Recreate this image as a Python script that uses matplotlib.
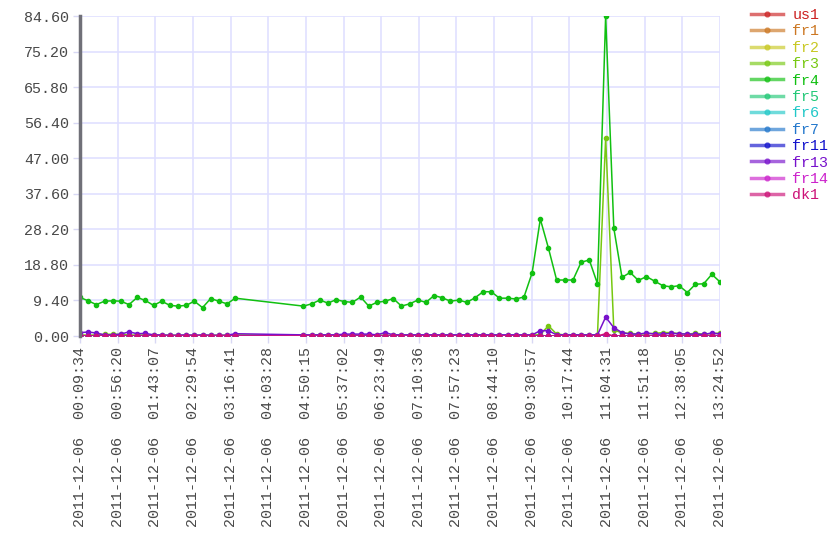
import matplotlib
matplotlib.use("Agg")
import matplotlib.pyplot as plt
from matplotlib.lines import Line2D

day = "2011-12-06"
times = ["00:09:34", "00:19:43", "00:29:52", "00:40:01", "00:50:10", "01:00:19",
         "01:10:28", "01:20:37", "01:30:46", "01:40:55", "01:51:04", "02:01:13",
         "02:11:22", "02:21:31", "02:31:40", "02:41:49", "02:51:58", "03:02:07",
         "03:12:16", "03:22:25",
         "04:47:13", "04:57:22", "05:07:31", "05:17:40", "05:27:49", "05:37:58",
         "05:48:07", "05:58:16", "06:08:25", "06:18:34", "06:28:43", "06:38:52",
         "06:49:01", "06:59:10", "07:09:19", "07:19:28", "07:29:37", "07:39:46",
         "07:49:55", "08:00:04", "08:10:13", "08:20:22", "08:30:31", "08:40:40",
         "08:50:49", "09:00:58", "09:11:07", "09:21:16", "09:31:25", "09:41:34",
         "09:51:43", "10:01:52", "10:12:01", "10:22:10", "10:32:19", "10:42:28",
         "10:52:37", "11:02:46", "11:12:55", "11:23:04", "11:33:13", "11:43:22",
         "11:53:31", "12:03:40", "12:13:49", "12:23:58", "12:34:07", "12:44:16",
         "12:54:25", "13:04:34", "13:14:43", "13:24:52"]

fr4 = [10.2, 9.3, 8.3, 9.2, 9.3, 9.2, 8.3, 10.2, 9.4, 8.1,
       9.2, 8.1, 7.9, 8.1, 9.2, 7.5, 9.9, 9.2, 8.5, 10.0,
       7.9, 8.5, 9.5, 8.7, 9.6, 9.1, 8.9, 10.3, 7.9, 8.9,
       9.2, 9.9, 7.9, 8.5, 9.5, 8.9, 10.7, 10.1, 9.2, 9.5,
       8.9, 10.1, 11.7, 11.7, 10.0, 10.0, 9.8, 10.3, 16.7, 30.9,
       23.2, 14.8, 14.8, 14.8, 19.5, 20.1, 13.8, 84.6, 28.5, 15.5,
       16.8, 14.7, 15.7, 14.5, 13.3, 13.0, 13.3, 11.5, 13.7, 13.8,
       16.3, 14.3]
fr3 = [0.3, 0.2, 0.3, 0.4, 0.5, 0.4, 0.3, 0.2, 0.3, 0.2,
       0.2, 0.2, 0.2, 0.2, 0.2, 0.2, 0.2, 0.2, 0.2, 0.3,
       0.2, 0.2, 0.3, 0.2, 0.2, 0.3, 0.2, 0.2, 0.3, 0.2,
       0.2, 0.2, 0.3, 0.2, 0.2, 0.2, 0.3, 0.2, 0.2, 0.2,
       0.2, 0.3, 0.2, 0.2, 0.2, 0.2, 0.2, 0.2, 0.2, 0.4,
       2.7, 0.5, 0.3, 0.3, 0.3, 0.3, 0.3, 52.3, 1.6, 0.8,
       0.7, 0.5, 0.6, 0.7, 0.9, 0.9, 0.6, 0.5, 0.7, 0.5,
       0.6, 0.8]
fr13 = [0.9, 1.05, 0.8, 0.3, 0.3, 0.5, 1.1, 0.6, 0.7, 0.3,
        0.3, 0.2, 0.2, 0.3, 0.2, 0.3, 0.2, 0.2, 0.2, 0.6,
        0.3, 0.3, 0.3, 0.3, 0.3, 0.5, 0.5, 0.5, 0.5, 0.3,
        0.9, 0.3, 0.3, 0.3, 0.3, 0.3, 0.3, 0.3, 0.3, 0.3,
        0.3, 0.3, 0.3, 0.3, 0.3, 0.3, 0.3, 0.3, 0.3, 1.4,
        1.4, 0.3, 0.3, 0.3, 0.3, 0.3, 0.3, 5.0, 2.2, 0.9,
        0.5, 0.5, 0.8, 0.5, 0.5, 0.7, 0.6, 0.5, 0.5, 0.4,
        0.8, 0.5]
dk1 = [0.0, 0.0, 0.0, 0.0, 0.0, 0.0, 0.0, 0.0, 0.0, 0.0,
       0.0, 0.0, 0.0, 0.0, 0.0, 0.0, 0.0, 0.0, 0.0, 0.0,
       0.0, 0.0, 0.0, 0.0, 0.0, 0.0, 0.0, 0.0, 0.0, 0.0,
       0.0, 0.0, 0.0, 0.0, 0.0, 0.0, 0.0, 0.0, 0.0, 0.0,
       0.0, 0.0, 0.0, 0.0, 0.0, 0.0, 0.0, 0.0, 0.0, 0.0,
       0.0, 0.0, 0.0, 0.0, 0.0, 0.0, 0.0, 0.6, 0.0, 0.0,
       0.0, 0.0, 0.0, 0.0, 0.0, 0.0, 0.0, 0.0, 0.0, 0.0,
       0.0, 0.0]
# series that stay flat at zero all day
flat = [0.0, 0.0, 0.0, 0.0, 0.0, 0.0, 0.0, 0.0, 0.0, 0.0,
        0.0, 0.0, 0.0, 0.0, 0.0, 0.0, 0.0, 0.0, 0.0, 0.0,
        0.0, 0.0, 0.0, 0.0, 0.0, 0.0, 0.0, 0.0, 0.0, 0.0,
        0.0, 0.0, 0.0, 0.0, 0.0, 0.0, 0.0, 0.0, 0.0, 0.0,
        0.0, 0.0, 0.0, 0.0, 0.0, 0.0, 0.0, 0.0, 0.0, 0.0,
        0.0, 0.0, 0.0, 0.0, 0.0, 0.0, 0.0, 0.0, 0.0, 0.0,
        0.0, 0.0, 0.0, 0.0, 0.0, 0.0, 0.0, 0.0, 0.0, 0.0,
        0.0, 0.0]

names = ["us1", "fr1", "fr2", "fr3", "fr4", "fr5", "fr6", "fr7", "fr11", "fr13", "fr14", "dk1"]
values = [flat, flat, flat, fr3, fr4, flat, flat, flat, flat, fr13, flat, dk1]
colors = ["#cc2222", "#cc7722", "#c8c822", "#77c811", "#11c011", "#22c877",
          "#22c8c8", "#2277cc", "#1111cc", "#7711cc", "#cc22cc", "#cc1177"]

xtick_times = ["00:09:34", "00:56:20", "01:43:07", "02:29:54", "03:16:41", "04:03:28",
               "04:50:15", "05:37:02", "06:23:49", "07:10:36", "07:57:23", "08:44:10",
               "09:30:57", "10:17:44", "11:04:31", "11:51:18", "12:38:05", "13:24:52"]
yticks = [0.0, 9.4, 18.8, 28.2, 37.6, 47.0, 56.4, 65.8, 75.2, 84.6]


def secs(t):
    h, m, s = t.split(":")
    return int(h) * 3600 + int(m) * 60 + int(s)


x = [secs(t) for t in times]
xt = [secs(t) for t in xtick_times]

mono = "Liberation Mono"
fig = plt.figure(figsize=(8.4, 5.6), dpi=100)
ax = fig.add_axes([80 / 840, 1 - 336 / 560, 640 / 840, 320 / 560])

for name, vals, c in zip(names, values, colors):
    ax.plot(x, vals, color=c, lw=1.1, marker="o", ms=3, mec=c, mfc=c, zorder=3)

ax.set_xlim(xt[0], xt[-1])
ax.set_ylim(0, 84.6)
ax.set_xticks(xt)
ax.set_xticklabels([day + "  " + t for t in xtick_times], rotation=90,
                   fontfamily=mono, fontsize=10.8, color="#484848")
ax.set_yticks(yticks)
ax.set_yticklabels(["%.2f" % v for v in yticks], fontfamily=mono, fontsize=10.8, color="#484848")
ax.grid(True, color="#e0e0ff", lw=1.2, zorder=0)
ax.tick_params(axis="both", length=5, width=1, color="#d8d8f4", pad=3)
for side in ["top", "right", "bottom"]:
    ax.spines[side].set_visible(False)
ax.spines["left"].set_color("#707078")
ax.spines["left"].set_linewidth(2.5)
ax.spines["left"].set_zorder(4)

handles = [Line2D([], [], color=c, lw=2.5, alpha=0.65, marker="o", ms=3.5,
                  mfc=c, mec=c) for c in colors]
leg = fig.legend(handles, names, loc="upper left", bbox_to_anchor=(751 / 840, 1 - 8 / 560),
                 frameon=False, handlelength=2.1, handletextpad=0.65, labelspacing=0.16,
                 borderaxespad=0, borderpad=0, labelcolor=colors,
                 prop={"family": mono, "size": 10.8})

fig.savefig("out.png", dpi=100)
